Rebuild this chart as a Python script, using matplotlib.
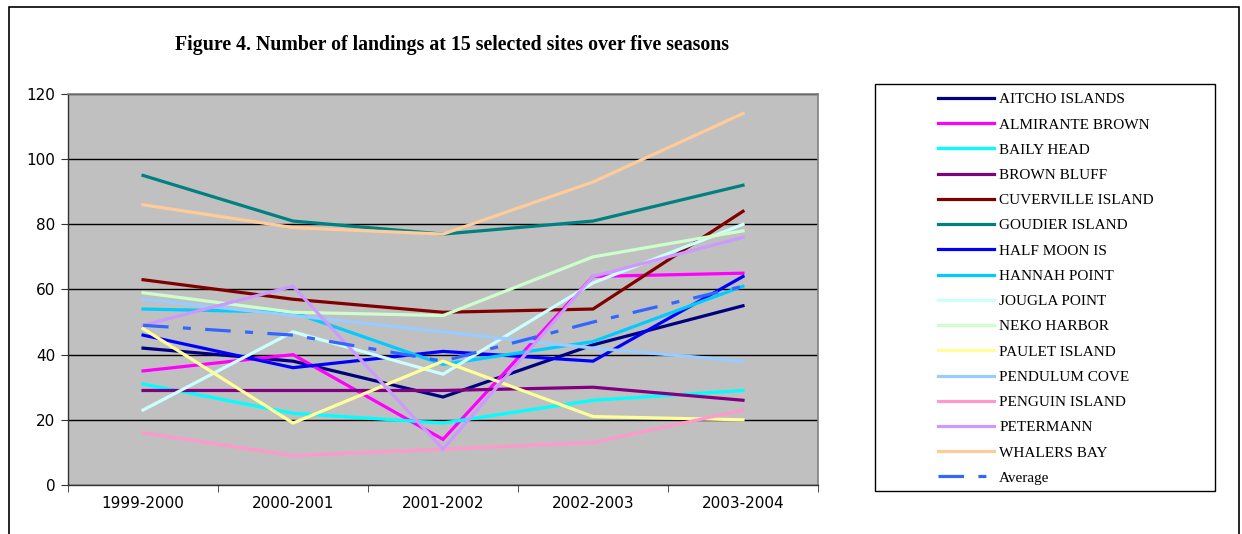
import numpy as np
import matplotlib
matplotlib.use('Agg')
import matplotlib.pyplot as plt
from matplotlib.patches import Rectangle

# ── data: landings per site per season ───────────────────────────────────
seasons = ['1999-2000', '2000-2001', '2001-2002', '2002-2003', '2003-2004']

aitcho_islands    = [42, 38, 27, 43, 55]
almirante_brown   = [35, 40, 14, 64, 65]
baily_head        = [31, 22, 19, 26, 29]
brown_bluff       = [29, 29, 29, 30, 26]
cuverville_island = [63, 57, 53, 54, 84]
goudier_island    = [95, 81, 77, 81, 92]
half_moon_is      = [46, 36, 41, 38, 64]
hannah_point      = [54, 53, 37, 44, 61]
jougla_point      = [23, 47, 34, 62, 80]
neko_harbor       = [59, 53, 52, 70, 78]
paulet_island     = [48, 19, 38, 21, 20]
pendulum_cove     = [57, 52, 47, 42, 38]
penguin_island    = [16, 9, 11, 13, 23]
petermann         = [49, 61, 11, 64, 76]
whalers_bay       = [86, 79, 77, 93, 114]
average           = [49, 46, 38, 50, 61]

series = [
    ('AITCHO ISLANDS', aitcho_islands, '#000080'),
    ('ALMIRANTE BROWN', almirante_brown, '#FF00FF'),
    ('BAILY HEAD', baily_head, '#00FFFF'),
    ('BROWN BLUFF', brown_bluff, '#800080'),
    ('CUVERVILLE ISLAND', cuverville_island, '#800000'),
    ('GOUDIER ISLAND', goudier_island, '#008080'),
    ('HALF MOON IS', half_moon_is, '#0000FF'),
    ('HANNAH POINT', hannah_point, '#00CCFF'),
    ('JOUGLA POINT', jougla_point, '#CCFFFF'),
    ('NEKO HARBOR', neko_harbor, '#CCFFCC'),
    ('PAULET ISLAND', paulet_island, '#FFFF99'),
    ('PENDULUM COVE', pendulum_cove, '#99CCFF'),
    ('PENGUIN ISLAND', penguin_island, '#FF99CC'),
    ('PETERMANN', petermann, '#CC99FF'),
    ('WHALERS BAY', whalers_bay, '#FFCC99'),
]

fig = plt.figure(figsize=(12.42, 5.34), dpi=100)
fig.patch.set_facecolor('white')

# outer chart frame
fig.patches.append(Rectangle((0.0076, -0.01), 0.99, 0.9978, transform=fig.transFigure,
                             fill=False, edgecolor='black', lw=1.2))
# legend box
fig.patches.append(Rectangle((0.7045, 0.0797), 0.2738, 0.763, transform=fig.transFigure,
                             fill=False, edgecolor='black', lw=1.0))

ax = fig.add_axes([0.0548, 0.0918, 0.6038, 0.7322])
ax.set_facecolor('#C0C0C0')

x = np.arange(len(seasons))
for name, vals, col in series:
    ax.plot(x, vals, color=col, lw=2.3, label=name, solid_joinstyle='miter')
ax.plot(x, average, color='#3366FF', lw=2.3, dashes=(8, 4.5, 2.5, 4.5), label='Average')

ax.set_xlim(-0.5, 4.5)
ax.set_ylim(0, 120)
ax.set_yticks(np.arange(0, 121, 20))
ax.yaxis.grid(True, color='black', lw=1.0)
ax.set_axisbelow(True)

ax.set_xticks(x)
ax.set_xticklabels(seasons)
ax.set_xticks(np.arange(-0.5, 4.6, 1), minor=True)
ax.tick_params(axis='x', which='major', length=0, pad=8, labelsize=11)
ax.tick_params(axis='x', which='minor', length=5, direction='out', color='#333333')
ax.tick_params(axis='y', length=5, direction='out', labelsize=11, pad=4, color='#333333')

for side in ['top', 'right']:
    ax.spines[side].set_color('#808080')
    ax.spines[side].set_linewidth(1.2)
for side in ['left', 'bottom']:
    ax.spines[side].set_color('#333333')
    ax.spines[side].set_linewidth(1.0)

fig.text(0.1405, 0.915, 'Figure 4. Number of landings at 15 selected sites over five seasons',
         fontsize=14.3, fontweight='bold', family='Liberation Serif', va='center')

leg = ax.legend(loc='upper left', bbox_to_anchor=(0.7552, 0.8265), bbox_transform=fig.transFigure,
                frameon=False, prop={'family': 'Liberation Serif', 'size': 11},
                handlelength=3.7, handletextpad=0.3, labelspacing=0.755,
                borderpad=0, borderaxespad=0)

fig.savefig('out.png', dpi=100, facecolor='white')
